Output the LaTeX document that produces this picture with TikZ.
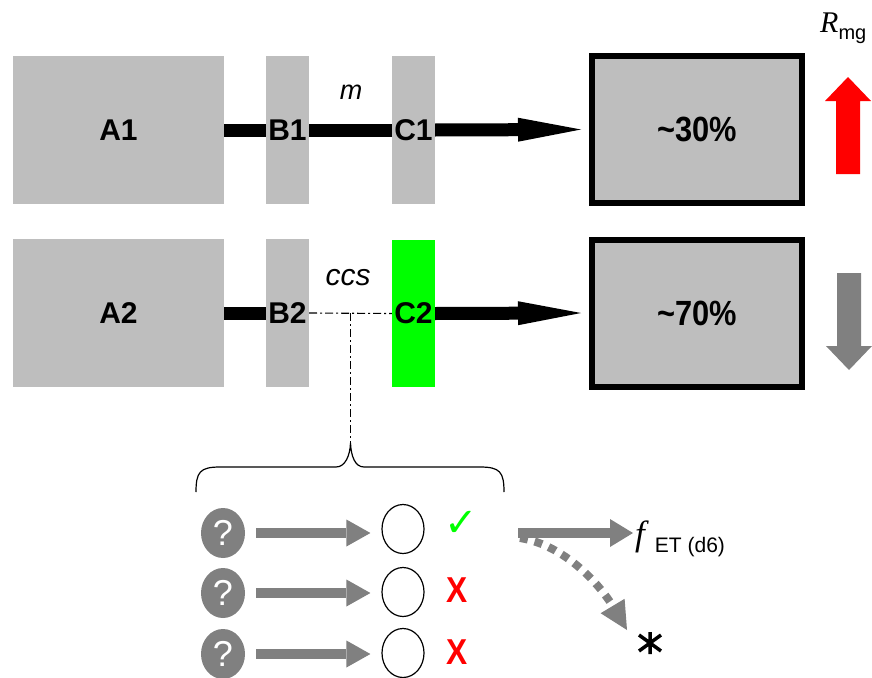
\documentclass[tikz,border=0pt]{standalone}
\usepackage{graphicx}
\usepackage{fontspec}
\setmainfont{Liberation Sans}
\newfontfamily\timesf{Liberation Serif}
\newfontfamily\dejavu{DejaVu Sans}
\usetikzlibrary{arrows.meta,calc,shapes.geometric}
\definecolor{boxgray}{RGB}{190,190,190}
\definecolor{arrgray}{RGB}{128,128,128}
\definecolor{brightgreen}{RGB}{0,255,0}
\definecolor{brightred}{RGB}{255,0,0}
\newcommand{\narrowtxt}[1]{\scalebox{0.88}[1]{#1}}
\begin{document}
\begin{tikzpicture}[x=1pt,y=-1pt,
  blockbox/.style={fill=boxgray, inner sep=0pt, minimum height=148pt,
    font=\fontsize{30}{32}\selectfont\bfseries},
  widebox/.style={blockbox, minimum width=211pt},
  thinbox/.style={blockbox, minimum width=43pt},
  resbox/.style={fill=boxgray, draw=black, line width=6pt, inner sep=0pt,
    minimum width=210pt, minimum height=147pt,
    font=\fontsize{35}{37}\selectfont\bfseries},
  blacklink/.style={draw=black, line width=13pt},
  blackarrow/.style={blacklink, -{Triangle[length=63pt,width=24pt,line width=0pt]}},
  dashdot/.style={draw=black, line width=1.1pt, dash pattern=on 8pt off 3pt on 2pt off 3pt},
  qcirc/.style={ellipse, fill=arrgray, inner sep=0pt, minimum width=44pt, minimum height=50pt,
    text=white, font=\fontsize{36}{38}\selectfont},
  ocirc/.style={ellipse, draw=black, line width=1.2pt, inner sep=0pt, minimum width=42pt, minimum height=49pt},
  grayarrow/.style={draw=arrgray, line width=10pt, -{Triangle[length=24pt,width=27pt,line width=0pt]}},
  italiclabel/.style={inner sep=0pt, anchor=base, font=\itshape},
  redx/.style={text=brightred, inner sep=0pt, font=\fontsize{36}{38}\selectfont\bfseries},
  bigarrowfill/.style={line join=miter}
]
\useasboundingbox (0,0) rectangle (872,677);

% ---- row 1
\node[widebox] (A1) at (118.5,130) {A1};
\node[thinbox] (B1) at (287.5,130) {B1};
\node[thinbox] (C1) at (413.5,130) {C1};
\node[resbox]  (P1) at (697,129.5) {\narrowtxt{\textasciitilde30\%}};
\coordinate (T1) at ([xshift=-8pt]P1.west);
\draw[blacklink] (A1.east) -- (B1.west);
\draw[blacklink] (B1.east) -- (C1.west);
\draw[blackarrow] (C1.east) -- (T1);
\node[italiclabel, font=\itshape\fontsize{27}{29}\selectfont] (m) at (351,99) {m};

% ---- row 2
\node[widebox] (A2) at (118.5,313) {A2};
\node[thinbox] (B2) at (287.5,313) {B2};
\node[thinbox, fill=brightgreen, minimum height=147pt] (C2) at (413.5,313.5) {C2};
\node[resbox]  (P2) at (697,313) {\narrowtxt{\textasciitilde70\%}};
\coordinate (T2) at ([xshift=-8pt]P2.west);
\draw[blacklink] (A2.east) -- (B2.west);
\draw[dashdot] (B2.east) -- (C2.west);
\draw[blackarrow] (C2.east) -- (T2);
\node[italiclabel, font=\itshape\fontsize{30}{32}\selectfont] (ccs) at (348,285) {ccs};

% ---- R_mg and side arrows
\node[anchor=base west, inner sep=0pt] (Rmg) at (820,33)
  {{\timesf\itshape\fontsize{30}{32}\selectfont R}\raisebox{-7pt}{\fontsize{20}{22}\selectfont mg}};
\fill[brightred, bigarrowfill] (836,174) -- (836,101) -- (825,101) -- (848,77) -- (871,101) -- (860,101) -- (860,174) -- cycle;
\fill[arrgray, bigarrowfill] (837,273) -- (837,346) -- (826,346) -- (849,370) -- (872,346) -- (861,346) -- (861,273) -- cycle;

% ---- brace from ccs link
\coordinate (mid) at ($(B2.east)!0.5!(C2.west)$);
\coordinate (tip) at (mid |- 0,443);
\draw[dashdot] (mid) -- (tip);
\draw[line width=1.2pt] (196,492) .. controls (196,472) and (200,467) .. (220,467)
  -- (336,467) .. controls (345,467) and (350,456) .. (tip)
  .. controls (351,456) and (355,467) .. (364,467)
  -- (480,467) .. controls (500,467) and (504,472) .. (504,492);

% ---- bottom rows
\foreach \i/\y/\oy in {1/533/529, 2/593/592, 3/654/653}{
  \node[qcirc] (Q\i) at (223,\y) {?};
  \node[ocirc] (O\i) at (403,\oy) {};
  \draw[grayarrow, shorten <=11pt, shorten >=11pt] (Q\i.east) -- (O\i.west |- Q\i.east);
}
\node[text=brightgreen, inner sep=0pt, font=\dejavu\fontsize{40}{42}\selectfont] (ok) at (461,524) {✓};
\node[redx] (x2) at (457,590) {\narrowtxt{X}};
\node[redx] (x3) at (457,652) {\narrowtxt{X}};

% ---- outcome arrows
\coordinate (G0) at (518,533);
\coordinate (G1) at (633,533);
\draw[draw=arrgray, line width=10pt, -{Triangle[length=23pt,width=28pt,line width=0pt]}] (G0) -- (G1);
\node[anchor=base west, inner sep=0pt] (fET) at (635,545)
  {{\timesf\itshape\fontsize{35}{37}\selectfont f}\hspace{10pt}\raisebox{-7pt}{\fontsize{21}{23}\selectfont ET (d6)}};
\coordinate (D0) at (520,538);
\coordinate (D1) at (627,630);
\draw[draw=arrgray, line width=8pt, dash pattern=on 8pt off 7pt, -{Triangle[length=28pt,width=28pt,line width=0pt]}]
  (D0) .. controls (565,545) and (600,585) .. (D1);
\coordinate (ast) at (650,643);
\draw[line width=3.5pt] ([yshift=-11pt]ast) -- ([yshift=11pt]ast)
  ([shift={(-11pt,-8pt)}]ast) -- ([shift={(11pt,8pt)}]ast)
  ([shift={(-11pt,8pt)}]ast) -- ([shift={(11pt,-8pt)}]ast);
\end{tikzpicture}
\end{document}
